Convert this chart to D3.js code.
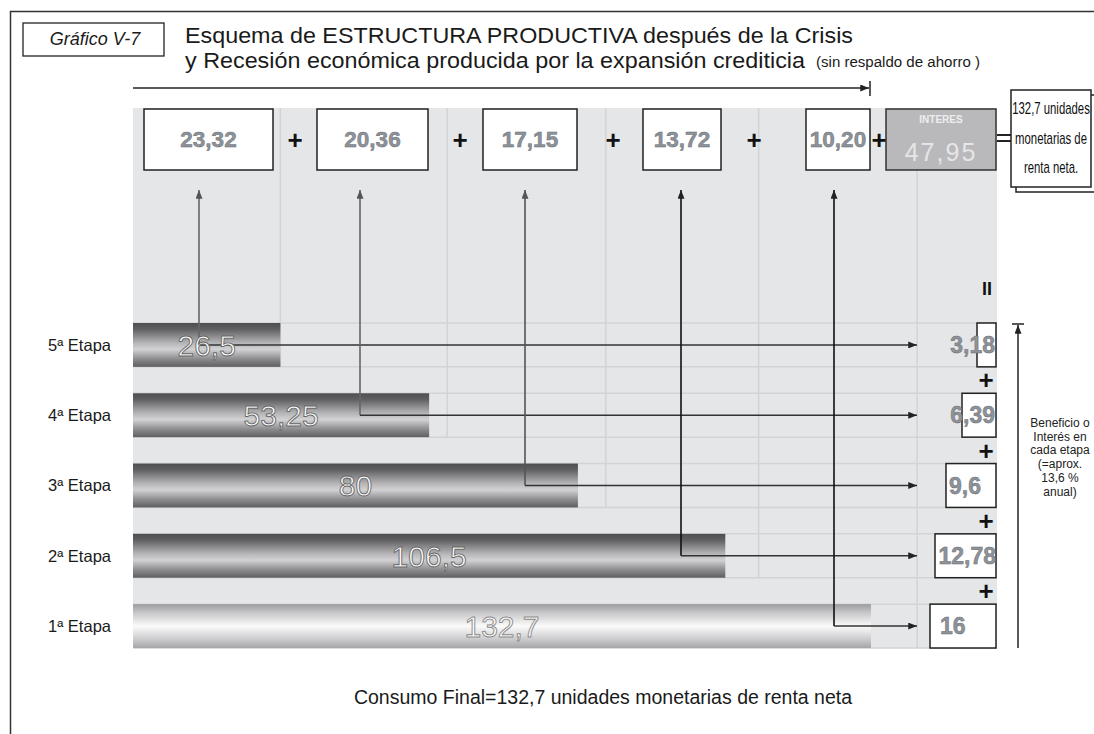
<!DOCTYPE html>
<html>
<head>
<meta charset="utf-8">
<script src="https://cdn.jsdelivr.net/npm/d3@7"></script>
<style>
    body { margin: 0; background: #fff; }
    svg { display: block; font-family: Arial, "Liberation Sans", sans-serif; }
</style>
</head>
<body>
<svg id="chart" width="1094" height="734"></svg>
<script>
// --- data ---
const stages = ['5ª Etapa', '4ª Etapa', '3ª Etapa', '2ª Etapa', '1ª Etapa'];
const stageValues = [26.5, 53.25, 80, 106.5, 132.7];
const stageInterest = [3.18, 6.39, 9.6, 12.78, 16];
const addedValues = [23.32, 20.36, 17.15, 13.72, 10.20];
const interestTotal = 47.95;
const finalConsumption = 132.7;
const gridTicks = [26.5, 56.5, 85, 112.5, 141];
const noteLines = ['Beneficio o', 'Interés en', 'cada etapa', '(=aprox.', '13,6 %', 'anual)'];
const totalLines = ['132,7 unidades', 'monetarias de', 'renta neta.'];

// --- layout ---
const panel = {left: 133, right: 997, top: 108, bottom: 648};
const topBoxes = [[144, 273], [317, 428], [483, 577], [643, 721], [806, 870]];
const topPlusX = [295, 460, 613, 754, 879];
const connectorX = [199, 360, 525, 681, 834];
const connectorColor = ['#666', '#666', '#555', '#111', '#111'];
const rightBoxW = [19, 34, 50, 61, 66];
const rightTextX = [995, 995, 949, 996, 940];
const rightAnchor = ['end', 'end', 'start', 'end', 'start'];
const arrowEndX = 917;

const comma = (v) => String(v).replace('.', ',');
const comma2 = (v) => d3.format('.2f')(v).replace('.', ',');

const svg = d3.select('#chart');
const defs = svg.append('defs');

function addMarker(id, color) {
    defs.append('marker')
        .attr('id', id)
        .attr('viewBox', '0 0 10 8')
        .attr('refX', 10).attr('refY', 4)
        .attr('markerUnits', 'userSpaceOnUse')
        .attr('markerWidth', 9).attr('markerHeight', 7)
        .attr('orient', 'auto')
        .append('path').attr('d', 'M0,0 L10,4 L0,8 z').attr('fill', color);
}
addMarker('arrow-dark', '#222');
addMarker('arrow-gray', '#555');

function addGradient(id, stops) {
    const g = defs.append('linearGradient').attr('id', id)
        .attr('x1', 0).attr('y1', 0).attr('x2', 0).attr('y2', 1);
    stops.forEach(([o, c]) => g.append('stop').attr('offset', o).attr('stop-color', c));
}
addGradient('bar-dark', [['0%', '#4e4e50'], ['14%', '#5f5f61'], ['45%', '#b4b4b6'],
    ['60%', '#d2d2d4'], ['82%', '#8c8c8e'], ['100%', '#5f5f61']]);
addGradient('bar-light', [['0%', '#9c9c9e'], ['18%', '#c4c4c6'], ['50%', '#fbfbfb'],
    ['75%', '#d4d4d6'], ['100%', '#a6a6a8']]);

// --- scales ---
const x = d3.scaleLinear().domain([0, finalConsumption]).range([panel.left, 871]);
const y = d3.scaleBand().domain(stages).range([323, panel.bottom])
    .paddingInner(0.376).paddingOuter(0);
const bw = y.bandwidth();
const mid = (s) => y(s) + bw / 2;

// --- frame & titles ---
svg.append('path').attr('d', 'M10.5,734 V11.5 H1094')
    .attr('fill', 'none').attr('stroke', '#333').attr('stroke-width', 1.5);
svg.append('rect').attr('x', 23).attr('y', 23).attr('width', 141).attr('height', 33)
    .attr('fill', 'none').attr('stroke', '#222').attr('stroke-width', 1.3);
svg.append('text').attr('x', 95).attr('y', 45).attr('text-anchor', 'middle')
    .attr('font-size', 18).attr('font-style', 'italic').attr('fill', '#1a1a1a')
    .text('Gráfico V-7');
svg.append('text').attr('x', 185).attr('y', 43).attr('font-size', 22.5).attr('fill', '#1a1a1a')
    .attr('textLength', 668).attr('lengthAdjust', 'spacingAndGlyphs')
    .text('Esquema de ESTRUCTURA PRODUCTIVA después de la Crisis');
svg.append('text').attr('x', 185).attr('y', 68).attr('font-size', 22.5).attr('fill', '#1a1a1a')
    .attr('textLength', 620).attr('lengthAdjust', 'spacingAndGlyphs')
    .text('y Recesión económica producida por la expansión crediticia');
svg.append('text').attr('x', 816).attr('y', 67).attr('font-size', 14).attr('fill', '#1a1a1a')
    .attr('textLength', 164).attr('lengthAdjust', 'spacingAndGlyphs')
    .text('(sin respaldo de ahorro )');

// top arrow
svg.append('line').attr('x1', panel.left).attr('x2', 869).attr('y1', 88).attr('y2', 88)
    .attr('stroke', '#222').attr('stroke-width', 1.5).attr('marker-end', 'url(#arrow-dark)');
svg.append('line').attr('x1', 870).attr('x2', 870).attr('y1', 81).attr('y2', 96)
    .attr('stroke', '#222').attr('stroke-width', 1.5);

// --- panel & grid ---
svg.append('rect').attr('x', panel.left).attr('y', panel.top)
    .attr('width', panel.right - panel.left).attr('height', panel.bottom - panel.top)
    .attr('fill', '#e5e6e8');
const grid = svg.append('g').attr('stroke', '#d2d3d5').attr('stroke-width', 1.5);
stages.forEach((s) => {
    [y(s), y(s) + bw].forEach((yy) => {
        grid.append('line').attr('x1', panel.left).attr('x2', panel.right)
            .attr('y1', yy).attr('y2', yy);
    });
});
grid.selectAll('line.v').data(gridTicks).join('line').attr('class', 'v')
    .attr('x1', (d) => x(d)).attr('x2', (d) => x(d))
    .attr('y1', panel.top).attr('y2', (d, i) => y(stages[i]) + bw);

// --- bars ---
svg.append('g').selectAll('rect').data(stageValues).join('rect')
    .attr('x', x(0)).attr('y', (d, i) => y(stages[i]))
    .attr('width', (d) => x(d) - x(0)).attr('height', bw)
    .attr('fill', (d, i) => i === stages.length - 1 ? 'url(#bar-light)' : 'url(#bar-dark)');

// stage labels
svg.append('g').selectAll('text').data(stages).join('text')
    .attr('x', 111).attr('y', (d) => mid(d)).attr('dy', '0.36em')
    .attr('text-anchor', 'end').attr('font-size', 16.5).attr('fill', '#1a1a1a')
    .text((d) => d);

// --- connectors ---
const conn = svg.append('g').attr('fill', 'none').attr('stroke-width', 1.6);
stages.forEach((s, i) => {
    conn.append('line').attr('x1', connectorX[i]).attr('x2', connectorX[i])
        .attr('y1', mid(s)).attr('y2', 190)
        .attr('stroke', connectorColor[i])
        .attr('marker-end', i < 3 ? 'url(#arrow-gray)' : 'url(#arrow-dark)');
    conn.append('line').attr('x1', connectorX[i]).attr('x2', arrowEndX)
        .attr('y1', mid(s)).attr('y2', mid(s))
        .attr('stroke', '#333').attr('marker-end', 'url(#arrow-dark)');
});

// bar value labels
svg.append('g').selectAll('text').data(stageValues).join('text')
    .attr('x', (d) => (x(0) + x(d)) / 2).attr('y', (d, i) => mid(stages[i])).attr('dy', '0.36em')
    .attr('text-anchor', 'middle').attr('font-size', 30)
    .attr('fill', '#fafafa').attr('stroke', (d, i) => i === stages.length - 1 ? '#8a8a8a' : '#666')
    .attr('stroke-width', 0.9)
    .text((d) => comma(d));

// --- top value boxes ---
const numStyle = (sel, size) => sel.attr('font-size', size).attr('font-weight', 'bold')
    .attr('fill', '#8e939a').attr('stroke', '#6a6f76').attr('stroke-width', 0.5);
const topRow = svg.append('g');
topRow.selectAll('rect').data(addedValues).join('rect')
    .attr('x', (d, i) => topBoxes[i][0]).attr('y', 109)
    .attr('width', (d, i) => topBoxes[i][1] - topBoxes[i][0]).attr('height', 61)
    .attr('fill', '#fff').attr('stroke', '#222').attr('stroke-width', 1.5);
numStyle(topRow.selectAll('text.v').data(addedValues).join('text').attr('class', 'v')
    .attr('x', (d, i) => (topBoxes[i][0] + topBoxes[i][1]) / 2).attr('y', 147)
    .attr('text-anchor', 'middle').text((d) => comma2(d)), 22.5);
topRow.selectAll('text.p').data(topPlusX).join('text').attr('class', 'p')
    .attr('x', (d) => d).attr('y', 149).attr('text-anchor', 'middle')
    .attr('font-size', 26).attr('font-weight', 'bold').attr('fill', '#111').text('+');

// interest total box
svg.append('rect').attr('x', 886).attr('y', 109).attr('width', 110).attr('height', 61)
    .attr('fill', '#b9b9bb').attr('stroke', '#333').attr('stroke-width', 1.5);
svg.append('text').attr('x', 941).attr('y', 123).attr('text-anchor', 'middle')
    .attr('font-size', 10).attr('font-weight', 'bold').attr('fill', '#eeeeee').text('INTERES');
svg.append('text').attr('x', 941).attr('y', 161).attr('text-anchor', 'middle')
    .attr('font-size', 25).attr('letter-spacing', 2).attr('fill', '#e6e6e6')
    .text(comma2(interestTotal));

// "=" to the total box
[135, 141].forEach((yy) => svg.append('line').attr('x1', 997).attr('x2', 1011)
    .attr('y1', yy).attr('y2', yy).attr('stroke', '#222').attr('stroke-width', 2));
svg.append('rect').attr('x', 1016).attr('y', 95).attr('width', 82).attr('height', 97)
    .attr('fill', '#fff').attr('stroke', '#222').attr('stroke-width', 1.5);
svg.append('rect').attr('x', 1011).attr('y', 90).attr('width', 80).attr('height', 97)
    .attr('fill', '#fff').attr('stroke', '#222').attr('stroke-width', 1.5);
svg.append('g').selectAll('text').data(totalLines).join('text')
    .attr('transform', (d, i) => `translate(1051 ${114 + i * 29.5}) scale(0.71 1)`)
    .attr('text-anchor', 'middle')
    .attr('font-size', 16).attr('fill', '#111')
    .text((d) => d);

// --- right column: interest per stage ---
svg.append('text').attr('x', 987).attr('y', 295).attr('text-anchor', 'middle')
    .attr('font-size', 18).attr('font-weight', 'bold').attr('fill', '#111').text('II');
const right = svg.append('g');
right.selectAll('rect').data(stageInterest).join('rect')
    .attr('x', (d, i) => 996 - rightBoxW[i]).attr('y', (d, i) => y(stages[i]))
    .attr('width', (d, i) => rightBoxW[i]).attr('height', bw)
    .attr('fill', '#fff').attr('stroke', '#222').attr('stroke-width', 1.5);
numStyle(right.selectAll('text.v').data(stageInterest).join('text').attr('class', 'v')
    .attr('x', (d, i) => rightTextX[i]).attr('y', (d, i) => mid(stages[i])).attr('dy', '0.36em')
    .attr('text-anchor', (d, i) => rightAnchor[i]).text((d) => comma(d)), 23);
right.selectAll('text.p').data(stages.slice(1)).join('text').attr('class', 'p')
    .attr('x', 986).attr('y', (d, i) => (y(stages[i]) + bw + y(d)) / 2).attr('dy', '0.36em')
    .attr('text-anchor', 'middle').attr('font-size', 26).attr('font-weight', 'bold')
    .attr('fill', '#111').text('+');

// benefit arrow and note
svg.append('line').attr('x1', 1018).attr('x2', 1018).attr('y1', panel.bottom).attr('y2', 325)
    .attr('stroke', '#222').attr('stroke-width', 1.5).attr('marker-end', 'url(#arrow-dark)');
svg.append('line').attr('x1', 1012).attr('x2', 1024).attr('y1', 324).attr('y2', 324)
    .attr('stroke', '#222').attr('stroke-width', 1.5);
svg.append('g').selectAll('text').data(noteLines).join('text')
    .attr('x', 1060).attr('y', (d, i) => 427 + i * 13.7).attr('text-anchor', 'middle')
    .attr('font-size', 12).attr('fill', '#222').text((d) => d);

// footer
svg.append('text').attr('x', 603).attr('y', 704).attr('text-anchor', 'middle')
    .attr('font-size', 19.5).attr('fill', '#1a1a1a')
    .text('Consumo Final=' + comma(finalConsumption) + ' unidades monetarias de renta neta');
</script>
</body>
</html>
